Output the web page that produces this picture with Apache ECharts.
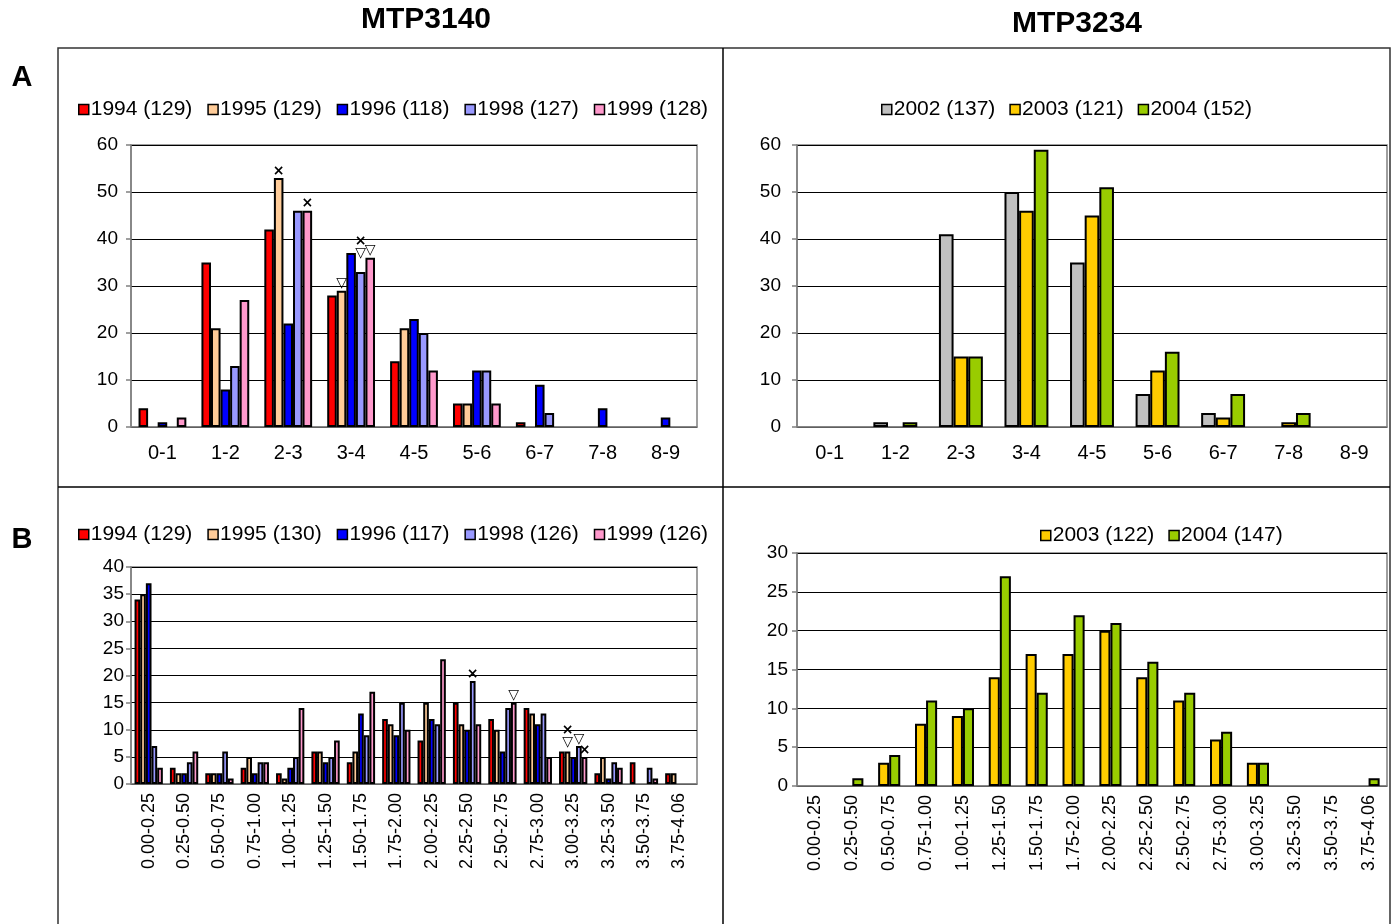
<!DOCTYPE html>
<html><head><meta charset="utf-8">
<script src="https://cdn.jsdelivr.net/npm/echarts@6/dist/echarts.min.js"></script>
<style>html,body{margin:0;padding:0;background:#fff}#c{width:1392px;height:924px}</style>
</head><body><div id="c"></div>
<script>
// ---- Data ----
const catsA = ['0-1','1-2','2-3','3-4','4-5','5-6','6-7','7-8','8-9'];
const catsB = ['0.00-0.25','0.25-0.50','0.50-0.75','0.75-1.00','1.00-1.25','1.25-1.50','1.50-1.75','1.75-2.00','2.00-2.25','2.25-2.50','2.50-2.75','2.75-3.00','3.00-3.25','3.25-3.50','3.50-3.75','3.75-4.06'];

// Panel A, MTP3140
const a3140Names = ['1994 (129)','1995 (129)','1996 (118)','1998 (127)','1999 (128)'];
const a3140_1994 = [4,35,42,28,14,5,1,0,0];
const a3140_1995 = [0,21,53,29,21,5,0,0,0];
const a3140_1996 = [1,8,22,37,23,12,9,4,2];
const a3140_1998 = [0,13,46,33,20,12,3,0,0];
const a3140_1999 = [2,27,46,36,12,5,0,0,0];

// Panel A, MTP3234
const a3234Names = ['2002 (137)','2003 (121)','2004 (152)'];
const a3234_2002 = [0,1,41,50,35,7,3,0,0];
const a3234_2003 = [0,0,15,46,45,12,2,1,0];
const a3234_2004 = [0,1,15,59,51,16,7,3,0];

// Panel B, MTP3140
const b3140Names = ['1994 (129)','1995 (130)','1996 (117)','1998 (126)','1999 (126)'];
const b3140_1994 = [34,3,2,3,2,6,4,12,8,15,12,14,6,2,4,2];
const b3140_1995 = [35,2,2,5,1,6,6,11,15,11,10,13,6,5,0,2];
const b3140_1996 = [37,2,2,2,3,4,13,9,12,10,6,11,5,1,0,0];
const b3140_1998 = [7,4,6,4,5,5,9,15,11,19,14,13,7,4,3,0];
const b3140_1999 = [3,6,1,4,14,8,17,10,23,11,15,5,5,3,1,0];

// Panel B, MTP3234
const b3234Names = ['2003 (122)','2004 (147)'];
const b3234_2003 = [0,0,3,8,9,14,17,17,20,14,11,6,3,0,0,0];
const b3234_2004 = [0,1,4,11,10,27,12,22,21,16,12,7,3,0,0,1];

// Annotation marks (series index, category index, text)
const annA3140 = [[1,2,'×'],[4,2,'×'],[1,3,'▽'],[3,3,'×\n▽'],[4,3,'▽']];
const annB3140 = [[3,9,'×'],[4,10,'▽'],[1,12,'×\n▽'],[3,12,'▽'],[4,12,'×']];

// ---- Styles ----
const leftColors = ['#FF0000','#FFCC99','#0000FF','#9999FF','#FF99CC'];
const rightColorsA = ['#C0C0C0','#FFCC00','#99CC00'];
const rightColorsB = ['#FFCC00','#99CC00'];
const FF = '"Liberation Sans", Arial, sans-serif';

function buildSeries(names, arrays, colors, axisIdx, ann, gap, annOffset) {
  return arrays.map((vals, si) => ({
    type: 'bar', name: names[si], xAxisIndex: axisIdx, yAxisIndex: axisIdx,
    barGap: '0%', barCategoryGap: gap,
    itemStyle: { color: colors[si], borderColor: '#000', borderWidth: 2 },
    emphasis: { disabled: true },
    data: vals.map((v, ci) => {
      const a = (ann || []).find(x => x[0] === si && x[1] === ci);
      const item = { value: v === 0 ? '-' : v };
      if (a) {
        const multi = a[2].indexOf('\n') >= 0;
        item.label = { show: true, position: 'top', formatter: a[2], color: '#000',
          fontSize: 14, lineHeight: 12, fontWeight: 'bold', fontFamily: 'DejaVu Sans', distance: 1,
          offset: multi ? [0, -annOffset] : [0, 0] };
      }
      return item;
    })
  }));
}

const grids = [
  { left: 131, top: 145, width: 566, height: 282 },
  { left: 797, top: 145, width: 590, height: 282 },
  { left: 131, top: 567, width: 566, height: 217 },
  { left: 797, top: 553, width: 590, height: 233 }
].map(g => Object.assign(g, { show: true, borderColor: '#808080', borderWidth: 1.5, containLabel: false }));

function xAxis(idx, cats, rotate) {
  return { type: 'category', gridIndex: idx, data: cats,
    axisLine: { lineStyle: { color: '#808080', width: 1.5 } },
    axisTick: { length: 5, lineStyle: { color: '#808080', width: 1.5 } },
    axisLabel: { color: '#000', fontFamily: FF, fontSize: rotate ? 18 : 20, margin: rotate ? 9 : 16, rotate: rotate ? 90 : 0, interval: 0 } };
}
function yAxis(idx, max, interval, margin) {
  return { type: 'value', gridIndex: idx, min: 0, max: max, interval: interval,
    axisLine: { show: true, lineStyle: { color: '#808080', width: 1.5 } },
    axisTick: { show: true, length: 5, lineStyle: { color: '#808080', width: 1.5 } },
    axisLabel: { color: '#000', fontFamily: FF, fontSize: 19, margin: margin },
    splitLine: { lineStyle: { color: '#000', width: 1 } } };
}
function legend(names, pos) {
  return Object.assign({ data: names, itemWidth: 10, itemHeight: 10, itemGap: 15, icon: 'rect',
    itemStyle: { borderColor: '#000', borderWidth: 1.5 },
    textStyle: { color: '#000', fontFamily: FF, fontSize: 21, padding: [0, 0, 0, -3] },
    selectedMode: false }, pos);
}

const series = [].concat(
  buildSeries(a3140Names, [a3140_1994,a3140_1995,a3140_1996,a3140_1998,a3140_1999], leftColors, 0, annA3140, '24%', 12),
  buildSeries(a3234Names, [a3234_2002,a3234_2003,a3234_2004], rightColorsA, 1, null, '33%', 0),
  buildSeries(b3140Names, [b3140_1994,b3140_1995,b3140_1996,b3140_1998,b3140_1999], leftColors, 2, annB3140, '20%', 2),
  buildSeries(b3234Names, [b3234_2003,b3234_2004], rightColorsB, 3, null, '40%', 0)
);

const option = {
  animation: false,
  backgroundColor: '#fff',
  grid: grids,
  xAxis: [xAxis(0, catsA, false), xAxis(1, catsA, false), xAxis(2, catsB, true), xAxis(3, catsB, true)],
  yAxis: [yAxis(0, 60, 10, 13), yAxis(1, 60, 10, 16), yAxis(2, 40, 5, 7), yAxis(3, 30, 5, 9)],
  legend: [
    legend(a3140Names, { left: 73, top: 94 }),
    legend(a3234Names, { left: 876, top: 94, itemGap: 14 }),
    legend(b3140Names, { left: 73, top: 519 }),
    legend(b3234Names, { left: 1035, top: 520, itemGap: 14 })
  ],
  series: series,
  graphic: [
    { type: 'rect', shape: { x: 58, y: 48, width: 1332, height: 900 }, style: { fill: 'none', stroke: '#333', lineWidth: 1.5 }, z: -1 },
    { type: 'line', shape: { x1: 723, y1: 48, x2: 723, y2: 924 }, style: { stroke: '#000', lineWidth: 1.5 } },
    { type: 'line', shape: { x1: 58, y1: 487, x2: 1390, y2: 487 }, style: { stroke: '#000', lineWidth: 1.5 } },
    { type: 'text', x: 426, y: 20, style: { text: 'MTP3140', font: 'bold 30px ' + FF, fill: '#000', align: 'center', verticalAlign: 'middle' } },
    { type: 'text', x: 1077, y: 24, style: { text: 'MTP3234', font: 'bold 30px ' + FF, fill: '#000', align: 'center', verticalAlign: 'middle' } },
    { type: 'text', x: 22, y: 78, style: { text: 'A', font: 'bold 29px ' + FF, fill: '#000', align: 'center', verticalAlign: 'middle' } },
    { type: 'text', x: 22, y: 540, style: { text: 'B', font: 'bold 29px ' + FF, fill: '#000', align: 'center', verticalAlign: 'middle' } }
  ]
};
const chart = echarts.init(document.getElementById('c'), null, { renderer: 'canvas' });
chart.setOption(option);
</script></body></html>
